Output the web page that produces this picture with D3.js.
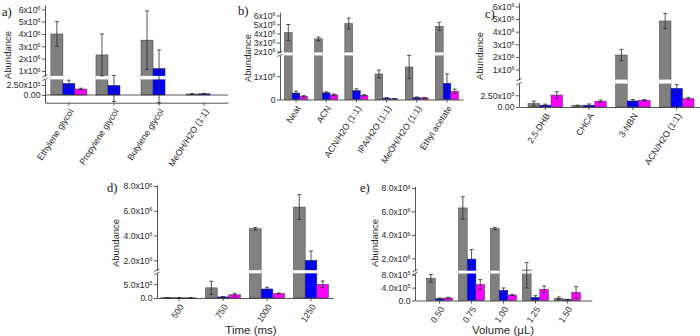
<!DOCTYPE html>
<html>
<head>
<meta charset="utf-8">
<script src="https://cdn.jsdelivr.net/npm/d3@7"></script>
<style>
  body { margin: 0; background: #fff; }
  svg { display: block; }
  svg text { font-family: "Liberation Sans", Arimo, sans-serif; }
  svg text.letter { font-family: "Liberation Serif", serif; }
</style>
</head>
<body>
<svg id="chart" width="700" height="336"></svg>
<script>
// series order: grey, blue, magenta
var seriesColors = ['#808080', '#0000ff', '#ff00ff'];

// a) solvent additive
var aCategories = ['Ethylene glycol', 'Propylene glycol', 'Butylene glycol', 'MeOH/H2O (1:1)'];
var aGrey = [4.0e6, 2.3e6, 3.5e6, 2.5e4];
var aGreyErr = [1.0e6, 1.7e6, 2.37e6, 1e4];
var aBlue = [2.9e5, 2.4e5, 1.2e6, 3e4];
var aBlueErr = [0.8e5, 4.0e5, 1.5e6, 1e4];
var aMagenta = [1.5e5, 0, 0, 0];
var aMagentaErr = [0.2e5, 0, 0, 0];
var aUpperTicks = [1e6, 2e6, 3e6, 4e6, 5e6, 6e6];
var aUpperLabels = ['1x10^6', '2x10^6', '3x10^6', '4x10^6', '5x10^6', '6x10^6'];
var aLowerTicks = [0, 2.5e5];
var aLowerLabels = ['0.00', '2.50x10^5'];

// b) solvent
var bCategories = ['Neat', 'ACN', 'ACN/H2O (1:1)', 'IPA/H2O (1:1)', 'MeOH/H2O (1:1)', 'Ethyl acetate'];
var bGrey = [4.1e6, 3.4e6, 5.1e6, 1.1e6, 1.4e6, 4.8e6];
var bGreyErr = [0.9e6, 0.2e6, 0.6e6, 0.17e6, 0.5e6, 0.45e6];
var bBlue = [2.8e5, 2.9e5, 3.9e5, 0.6e5, 0.8e5, 7.0e5];
var bBlueErr = [0.8e5, 0.4e5, 0.7e5, 0.2e5, 0.3e5, 4.0e5];
var bMagenta = [1.4e5, 2.0e5, 1.8e5, 0.3e5, 0.7e5, 3.5e5];
var bMagentaErr = [0.3e5, 0.4e5, 0.3e5, 0.1e5, 0.2e5, 1.0e5];
var bUpperTicks = [2e6, 3e6, 4e6, 5e6, 6e6];
var bUpperLabels = ['2x10^6', '3x10^6', '4x10^6', '5x10^6', '6x10^6'];
var bLowerTicks = [0, 1e6];
var bLowerLabels = ['0', '1x10^6'];

// c) matrix
var cCategories = ['2,5-DHB', 'CHCA', '3-NBN', 'ACN/H2O (1:1)'];
var cGrey = [0.75e5, 0.3e5, 2.15e6, 4.85e6];
var cGreyErr = [0.5e5, 0.1e5, 0.45e6, 0.6e6];
var cBlue = [0.4e5, 0.4e5, 1.3e5, 4.0e5];
var cBlueErr = [0.2e5, 0.25e5, 0.3e5, 0.8e5];
var cMagenta = [2.55e5, 1.25e5, 1.45e5, 1.8e5];
var cMagentaErr = [0.7e5, 0.25e5, 0.15e5, 0.25e5];
var cUpperTicks = [1e6, 2e6, 3e6, 4e6, 5e6, 6e6];
var cUpperLabels = ['1x10^6', '2x10^6', '3x10^6', '4x10^6', '5x10^6', '6x10^6'];
var cLowerTicks = [0, 2.5e5];
var cLowerLabels = ['0.00', '2.50x10^5'];

// d) time
var dCategories = ['500', '750', '1000', '1250'];
var dGrey = [1.5e4, 3.7e5, 4.55e6, 6.3e6];
var dGreyErr = [0.5e4, 2.4e5, 0.1e6, 1.0e6];
var dBlue = [8e3, 4e4, 3.3e5, 2.0e6];
var dBlueErr = [2e3, 1e4, 0.6e5, 0.75e6];
var dMagenta = [5e3, 1.2e5, 1.65e5, 5.0e5];
var dMagentaErr = [2e3, 0.5e5, 0.2e5, 1.2e5];
var dUpperTicks = [2e6, 4e6, 6e6, 8e6];
var dUpperLabels = ['2.0x10^6', '4.0x10^6', '6.0x10^6', '8.0x10^6'];
var dLowerTicks = [0, 5e5];
var dLowerLabels = ['0.0', '5.0x10^5'];

// e) volume
var eCategories = ['0.50', '0.75', '1.00', '1.25', '1.50'];
var eGrey = [6.9e5, 6.3e6, 4.55e6, 1.02e6, 0.7e5];
var eGreyErr = [1.2e5, 0.95e6, 0.1e6, 0.63e6, 0.4e5];
var eBlue = [0.6e5, 1.95e6, 3.2e5, 1.0e5, 0.3e5];
var eBlueErr = [0.2e5, 0.8e6, 0.7e5, 0.5e5, 0.1e5];
var eMagenta = [0.8e5, 5.0e5, 1.7e5, 3.5e5, 2.5e5];
var eMagentaErr = [0.2e5, 1.5e5, 0.2e5, 1.0e5, 1.8e5];
var eUpperTicks = [2e6, 4e6, 6e6, 8e6];
var eUpperLabels = ['2.0x10^6', '4.0x10^6', '6.0x10^6', '8.0x10^6'];
var eLowerTicks = [0, 4e5, 8e5];
var eLowerLabels = ['0.0', '4.0x10^5', '8.0x10^5'];

var svg = d3.select('#chart');
var ink = '#2b2b2b';

// "6x10^6" -> 6x10 with superscript 6
function writeLabel(sel, label) {
  var parts = label.split('^');
  sel.text(null);
  sel.append('tspan').text(parts[0]);
  if (parts.length > 1) {
    sel.append('tspan').attr('dy', '-0.5em').attr('font-size', '0.62em').text(parts[1]);
  }
}

function drawPanel(p) {
  var g = svg.append('g');

  var x = d3.scaleBand().domain(p.cats).range(p.xRange).paddingInner(0).paddingOuter(p.pad);
  var xs = d3.scaleBand().domain([0, 1, 2]).range([-1.5 * p.barW, 1.5 * p.barW]);
  var yLo = d3.scaleLinear().domain(p.lower.domain).range(p.lower.range);
  var yUp = d3.scaleLinear().domain(p.upper.domain).range(p.upper.range);
  var loTop = p.lower.domain[1], upBot = p.upper.domain[0];

  function yAt(v) {
    if (v <= loTop) return yLo(Math.max(v, p.lower.domain[0]));
    if (v >= upBot) return yUp(Math.min(v, p.upper.domain[1]));
    var t = (v - loTop) / (upBot - loTop);
    return yLo(loTop) + t * (yUp(upBot) - yLo(loTop));
  }
  var base = yLo(Math.max(0, p.lower.domain[0]));
  var cx = function(c) { return x(c) + x.bandwidth() / 2; };

  // bars
  p.values.forEach(function(vals, s) {
    vals.forEach(function(v, i) {
      if (v <= 0) return;
      var bx = cx(p.cats[i]) + xs(s);
      var top = yAt(v);
      g.append('rect')
        .attr('x', bx).attr('y', top)
        .attr('width', xs.bandwidth()).attr('height', Math.max(0.6, base - top))
        .attr('fill', seriesColors[s])
        .attr('stroke', '#3a3a3a').attr('stroke-width', 0.5);
      if (v > loTop) {
        // white gap where the axis is broken
        g.append('rect')
          .attr('x', bx - 0.5).attr('y', yUp(upBot))
          .attr('width', xs.bandwidth() + 1).attr('height', yLo(loTop) - yUp(upBot))
          .attr('fill', '#fff');
      }
    });
  });

  // error bars
  p.errs.forEach(function(errs, s) {
    errs.forEach(function(e, i) {
      var v = p.values[s][i];
      if (v <= 0 || e <= 0) return;
      var ex = cx(p.cats[i]) + xs(s) + xs.bandwidth() / 2;
      var y1 = yAt(v + e), y2 = yAt(v - e);
      g.append('line').attr('x1', ex).attr('x2', ex).attr('y1', y1).attr('y2', y2)
        .attr('stroke', ink).attr('stroke-width', 0.8);
      [y1, y2].forEach(function(yy) {
        g.append('line').attr('x1', ex - 2).attr('x2', ex + 2).attr('y1', yy).attr('y2', yy)
          .attr('stroke', ink).attr('stroke-width', 0.8);
      });
    });
  });

  // zero line when the lower segment goes below zero
  if (p.lower.domain[0] < 0) {
    g.append('line').attr('x1', p.xRange[0]).attr('x2', p.xRange[1])
      .attr('y1', yLo(0)).attr('y2', yLo(0))
      .attr('stroke', ink).attr('stroke-width', 0.8);
  }

  // y axes, one per segment
  [[yUp, p.upper], [yLo, p.lower]].forEach(function(pair) {
    var seg = pair[1];
    var ax = g.append('g')
      .attr('transform', 'translate(' + p.xRange[0] + ',0)')
      .call(d3.axisLeft(pair[0]).tickValues(seg.ticks).tickSize(3).tickSizeOuter(0)
        .tickFormat(function(d, i) { return seg.labels[i]; }));
    ax.attr('font-family', null).attr('font-size', null);
    ax.select('.domain').attr('stroke', ink).attr('stroke-width', 0.8);
    ax.selectAll('.tick line').attr('stroke', ink).attr('stroke-width', 0.8);
    ax.selectAll('.tick text')
      .attr('x', -4.5).attr('font-size', 8.7).attr('fill', ink)
      .each(function(d, i) { writeLabel(d3.select(this), seg.labels[i]); });
  });

  // break mark on the axis
  var gy1 = yUp(upBot), gy2 = yLo(loTop);
  [gy1, gy2].forEach(function(yy) {
    g.append('line')
      .attr('x1', p.xRange[0] - 2.5).attr('x2', p.xRange[0] + 2.5)
      .attr('y1', yy + 1.2).attr('y2', yy - 1.2)
      .attr('stroke', ink).attr('stroke-width', 0.8);
  });

  // x axis
  var xa = g.append('g')
    .attr('transform', 'translate(0,' + p.axisY + ')')
    .call(d3.axisBottom(x).tickSize(3).tickSizeOuter(0));
  xa.attr('font-family', null).attr('font-size', null);
  xa.select('.domain').attr('stroke', ink).attr('stroke-width', 0.8);
  xa.selectAll('.tick line').attr('stroke', ink).attr('stroke-width', 0.8);
  xa.selectAll('.tick text')
    .attr('x', 0).attr('y', 0).attr('dy', '0.35em')
    .attr('transform', 'translate(2.5,7) rotate(-57)')
    .style('text-anchor', 'end')
    .attr('font-size', 8.8).attr('fill', ink);

  // titles
  g.append('text')
    .attr('transform', 'translate(' + p.yTitle[0] + ',' + p.yTitle[1] + ') rotate(-90)')
    .attr('text-anchor', 'middle').attr('dy', '0.35em')
    .attr('font-size', 9.5).attr('fill', ink)
    .text('Abundance');
  g.append('text')
    .attr('class', 'letter')
    .attr('x', p.letter[1]).attr('y', p.letter[2])
    .attr('font-size', 12.5).attr('fill', '#111')
    .text(p.letter[0]);
  if (p.xTitle) {
    g.append('text')
      .attr('x', p.xTitle[1]).attr('y', p.xTitle[2])
      .attr('text-anchor', 'middle').attr('font-size', 11.5).attr('fill', ink)
      .text(p.xTitle[0]);
  }
}

drawPanel({
  cats: aCategories, values: [aGrey, aBlue, aMagenta], errs: [aGreyErr, aBlueErr, aMagentaErr],
  xRange: [45, 228], pad: 0.03, barW: 12, axisY: 102.7,
  upper: { domain: [0.6e6, 6.35e6], range: [75.9, 5], ticks: aUpperTicks, labels: aUpperLabels },
  lower: { domain: [-1.9e5, 3.9e5], range: [102.6, 79.4], ticks: aLowerTicks, labels: aLowerLabels },
  yTitle: [8, 55], letter: ['a)', 2, 16]
});

drawPanel({
  cats: bCategories, values: [bGrey, bBlue, bMagenta], errs: [bGreyErr, bBlueErr, bMagentaErr],
  xRange: [280, 463], pad: 0.03, barW: 7.7, axisY: 99.5,
  upper: { domain: [1.9e6, 6.35e6], range: [52.4, 12.35], ticks: bUpperTicks, labels: bUpperLabels },
  lower: { domain: [0, 1.9e6], range: [99.5, 55.4], ticks: bLowerTicks, labels: bLowerLabels },
  yTitle: [248, 58], letter: ['b)', 238, 15]
});

drawPanel({
  cats: cCategories, values: [cGrey, cBlue, cMagenta], errs: [cGreyErr, cBlueErr, cMagentaErr],
  xRange: [519, 703], pad: 0.1, barW: 11.5, axisY: 107,
  upper: { domain: [0.2e6, 6.3e6], range: [79.6, 2.7], ticks: cUpperTicks, labels: cUpperLabels },
  lower: { domain: [0, 5e5], range: [107, 83.6], ticks: cLowerTicks, labels: cLowerLabels },
  yTitle: [480, 56], letter: ['c)', 485, 18]
});

drawPanel({
  cats: dCategories, values: [dGrey, dBlue, dMagenta], errs: [dGreyErr, dBlueErr, dMagentaErr],
  xRange: [157, 333], pad: 0, barW: 11.7, axisY: 298,
  upper: { domain: [1.2e6, 8.1e6], range: [270.2, 184.8], ticks: dUpperTicks, labels: dUpperLabels },
  lower: { domain: [0, 9e5], range: [298, 273.3], ticks: dLowerTicks, labels: dLowerLabels },
  yTitle: [116, 243], letter: ['d)', 107, 192], xTitle: ['Time (ms)', 251, 334]
});

drawPanel({
  cats: eCategories, values: [eGrey, eBlue, eMagenta], errs: [eGreyErr, eBlueErr, eMagentaErr],
  xRange: [415, 592], pad: 0.27, barW: 8.7, axisY: 300.5,
  upper: { domain: [0.96e6, 8.15e6], range: [270.7, 186.2], ticks: eUpperTicks, labels: eUpperLabels },
  lower: { domain: [0, 8.4e5], range: [300.5, 273.5], ticks: eLowerTicks, labels: eLowerLabels },
  yTitle: [375, 243], letter: ['e)', 360, 192], xTitle: ['Volume (\u03bcL)', 503, 334]
});
</script>
</body>
</html>
